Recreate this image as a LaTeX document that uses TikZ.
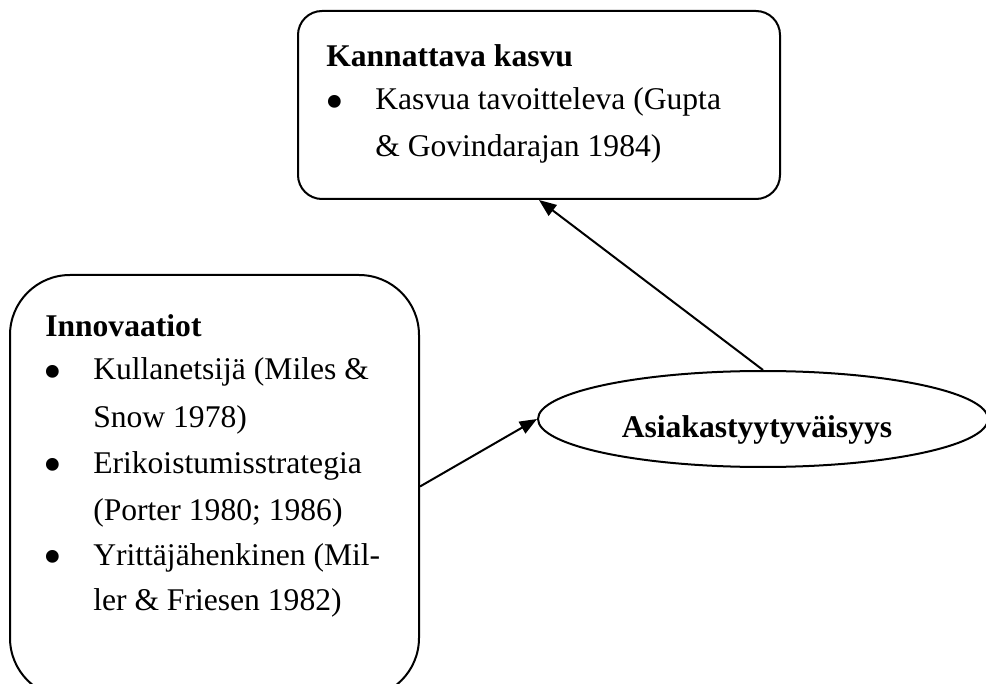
\documentclass[tikz,border=0pt]{standalone}
\usepackage{fontspec}
\setmainfont{Liberation Serif}
\usetikzlibrary{shapes.geometric,arrows.meta}
\newcommand{\bodysize}{\fontsize{23.7pt}{28pt}\selectfont}
\begin{document}
\begin{tikzpicture}[x=0.75pt,y=-0.75pt,
  every node/.style={font=\bodysize},
  panel/.style={draw,line width=1.5pt,rectangle,inner sep=0pt},
  oval/.style={draw,line width=1.5pt,ellipse,inner sep=0pt,
    minimum width=337.5pt,minimum height=72pt},
  txt/.style={anchor=base west,inner sep=0pt},
  head/.style={txt,font=\bodysize\bfseries},
  dot/.style={anchor=base west,inner sep=0pt,font=\fontsize{40pt}{40pt}\selectfont,yshift=-7pt},
  arr/.style={line width=1.5pt,-{Triangle[length=13pt,width=10pt]}}]
\useasboundingbox (0,0) rectangle (986,684);
\begin{scope}
\clip (0,0) rectangle (986,684);
% outcome box
\node[panel,rounded corners=18pt,minimum width=361.5pt,minimum height=141pt]
  (growth) at (539,105) {};
% innovation box (runs past the lower edge)
\node[panel,rounded corners=45pt,minimum width=306.75pt,minimum height=317.25pt]
  (innov) at (214.5,486.5) {};
% mediating variable
\node[oval] (satisf) at (763,419) {};
\end{scope}

% texts of the outcome box
\node[head] (gh) at (326,67) {Kannattava kasvu};
\node[dot] (gb1) at (325,110) {•};
\node[txt] (g1a) at (375,110) {Kasvua tavoitteleva (Gupta};
\node[txt] (g1b) at (375,157) {\& Govindarajan 1984)};

% texts of the innovation box
\node[head] (ih) at (45,337) {Innovaatiot};
\node[dot] (ib1) at (43,380) {•};
\node[txt] (i1a) at (93,380) {Kullanetsijä (Miles \&};
\node[txt] (i1b) at (93,427) {Snow 1978)};
\node[dot] (ib2) at (43,473) {•};
\node[txt] (i2a) at (93,473) {Erikoistumisstrategia};
\node[txt] (i2b) at (93,520) {(Porter 1980; 1986)};
\node[dot] (ib3) at (43,565) {•};
\node[txt] (i3a) at (93,565) {Yrittäjähenkinen (Mil-};
\node[txt] (i3b) at (93,610) {ler \& Friesen 1982)};

% text of the oval
\node[anchor=base,inner sep=0pt,font=\bodysize\bfseries]
  (st) at (757,437) {Asiakastyytyväisyys};

% connectors
\draw[arr] (innov.east) -- (satisf.west);
\draw[arr] (satisf.north) -- (growth.south);
\end{tikzpicture}
\end{document}
